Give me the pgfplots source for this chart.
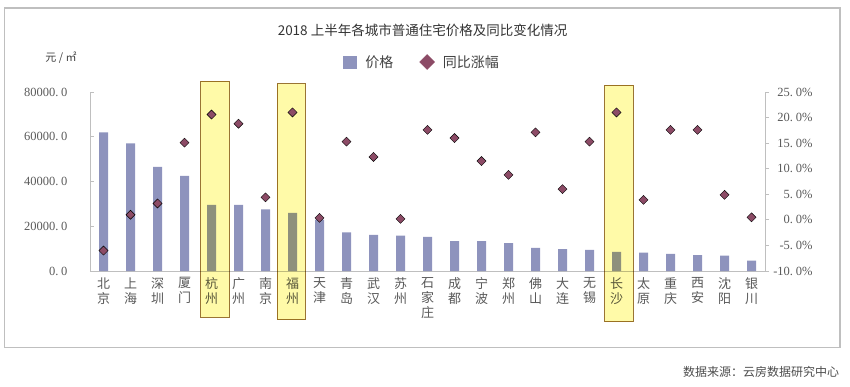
\documentclass[border=0pt]{standalone}
\usepackage{pgfplots}
\pgfplotsset{compat=1.18}
\usepackage{fontspec}
\setmainfont{Noto Sans CJK SC}
\newfontfamily\numfont{Liberation Serif}
\definecolor{barc}{HTML}{8E93BD}
\definecolor{mkc}{HTML}{8C4B66}
\definecolor{axc}{HTML}{BFBFBF}
\definecolor{txc}{HTML}{595959}
\definecolor{hlfill}{HTML}{FFFAA8}
\definecolor{hldraw}{HTML}{9A7434}
\newcommand{\dpt}{.\hspace{0.22em}}
\begin{document}
\begin{tikzpicture}
\useasboundingbox (0pt,0pt) rectangle (850pt,386pt);
\draw[axc, line width=1.2pt] (4.5pt,38.5pt) rectangle (840pt,378pt);
\node[text=black!80, font=\fontsize{13.5}{15}\selectfont] at (422.5pt,356pt) {2018 上半年各城市普通住宅价格及同比变化情况};
\node[text=black!75, font=\fontsize{11}{13}\selectfont] at (61pt,328pt) {元 / ㎡};
\node[text=black!70, font=\fontsize{12}{14}\selectfont] at (761pt,14pt) {数据来源：云房数据研究中心};

\begin{axis}[
  at={(90pt,115pt)}, anchor=south west, scale only axis,
  width=675pt, height=179pt,
  xmin=-0.5, xmax=24.5, ymin=0, ymax=80000,
  scaled y ticks=false,
  axis y line*=left, axis x line*=bottom,
  axis line style={-, axc, line width=0.9pt},
  tick align=inside, major tick length=4pt,
  major y tick style={axc, line width=0.9pt},
  major x tick style={draw=none},
  ytick={0,20000,40000,60000,80000},
  yticklabels={0\dpt0, 20000\dpt0, 40000\dpt0, 60000\dpt0, 80000\dpt0},
  yticklabel style={font=\numfont\fontsize{12.5}{14}\selectfont, text=txc, xshift=-19pt},
  xtick={0,...,24},
  xticklabels={北\\京, 上\\海, 深\\圳, 厦\\门, 杭\\州, 广\\州, 南\\京, 福\\州, 天\\津, 青\\岛, 武\\汉, 苏\\州, 石\\家\\庄, 成\\都, 宁\\波, 郑\\州, 佛\\山, 大\\连, 无\\锡, 长\\沙, 太\\原, 重\\庆, 西\\安, 沈\\阳, 银\\川},
  xticklabel style={align=center, font=\fontsize{13}{15}\selectfont, text=txc, anchor=north, yshift=-3pt},
  legend style={at={(axis description cs:0.492,1)}, anchor=center, yshift=30pt,
    draw=none, fill=none, legend columns=2,
    font=\fontsize{14}{16}\selectfont, text=black!75,
    /tikz/every odd column/.append style={column sep=6pt},
    /tikz/every even column/.append style={column sep=24pt}},
]
\addplot[ybar, bar width=9pt, fill=barc, draw=none,
  legend image code/.code={\fill[barc] (0pt,-6.5pt) rectangle (14pt,6.5pt);}]
  coordinates {(0,62000) (1,57000) (2,46500) (3,42500) (4,29500) (5,29500) (6,27500) (7,26000) (8,23000) (9,17300) (10,16200) (11,15800) (12,15200) (13,13300) (14,13300) (15,12500) (16,10300) (17,9800) (18,9400) (19,8600) (20,8200) (21,7700) (22,7150) (23,6850) (24,4600)};
\addlegendentry{价格}
\addlegendimage{legend image code/.code={\fill[mkc] (7pt,-7.5pt) -- (14.5pt,0pt) -- (7pt,7.5pt) -- (-0.5pt,0pt) -- cycle;}}
\addlegendentry{同比涨幅}
\end{axis}

\begin{axis}[
  at={(90pt,115pt)}, anchor=south west, scale only axis,
  width=675pt, height=179pt,
  xmin=-0.5, xmax=24.5, ymin=-10, ymax=25,
  axis y line*=right, axis x line=none, clip=false,
  axis line style={-, axc, line width=0.9pt},
  tick align=outside, major tick length=4pt,
  major y tick style={axc, line width=0.9pt},
  ytick={-10,-5,0,5,10,15,20,25},
  yticklabels={-10\dpt0\%, -5\dpt0\%, 0\dpt0\%, 5\dpt0\%, 10\dpt0\%, 15\dpt0\%, 20\dpt0\%, 25\dpt0\%},
  yticklabel style={font=\numfont\fontsize{12.5}{14}\selectfont, text=txc, anchor=east, xshift=47pt},
]
\addplot[only marks, mark=square*, mark size=3.2pt, mark options={rotate=45, fill=mkc, draw=none}]
  coordinates {(0,-6.0) (1,1.0) (2,3.2) (3,15.1) (4,20.6) (5,18.8) (6,4.4) (7,21.0) (8,0.4) (9,15.3) (10,12.3) (11,0.2) (12,17.6) (13,16.0) (14,11.5) (15,8.8) (16,17.1) (17,6.0) (18,15.3) (19,21.0) (20,3.9) (21,17.6) (22,17.6) (23,4.9) (24,0.5)};
\begin{scope}[blend mode=multiply]
\draw[hldraw, fill=hlfill, line width=1pt] (axis cs:3.61,-19.0) rectangle (axis cs:4.65,27.1);
\draw[hldraw, fill=hlfill, line width=1pt] (axis cs:6.44,-19.5) rectangle (axis cs:7.47,26.6);
\draw[hldraw, fill=hlfill, line width=1pt] (axis cs:18.57,-19.9) rectangle (axis cs:19.62,26.3);
\end{scope}
\end{axis}
\end{tikzpicture}
\end{document}
